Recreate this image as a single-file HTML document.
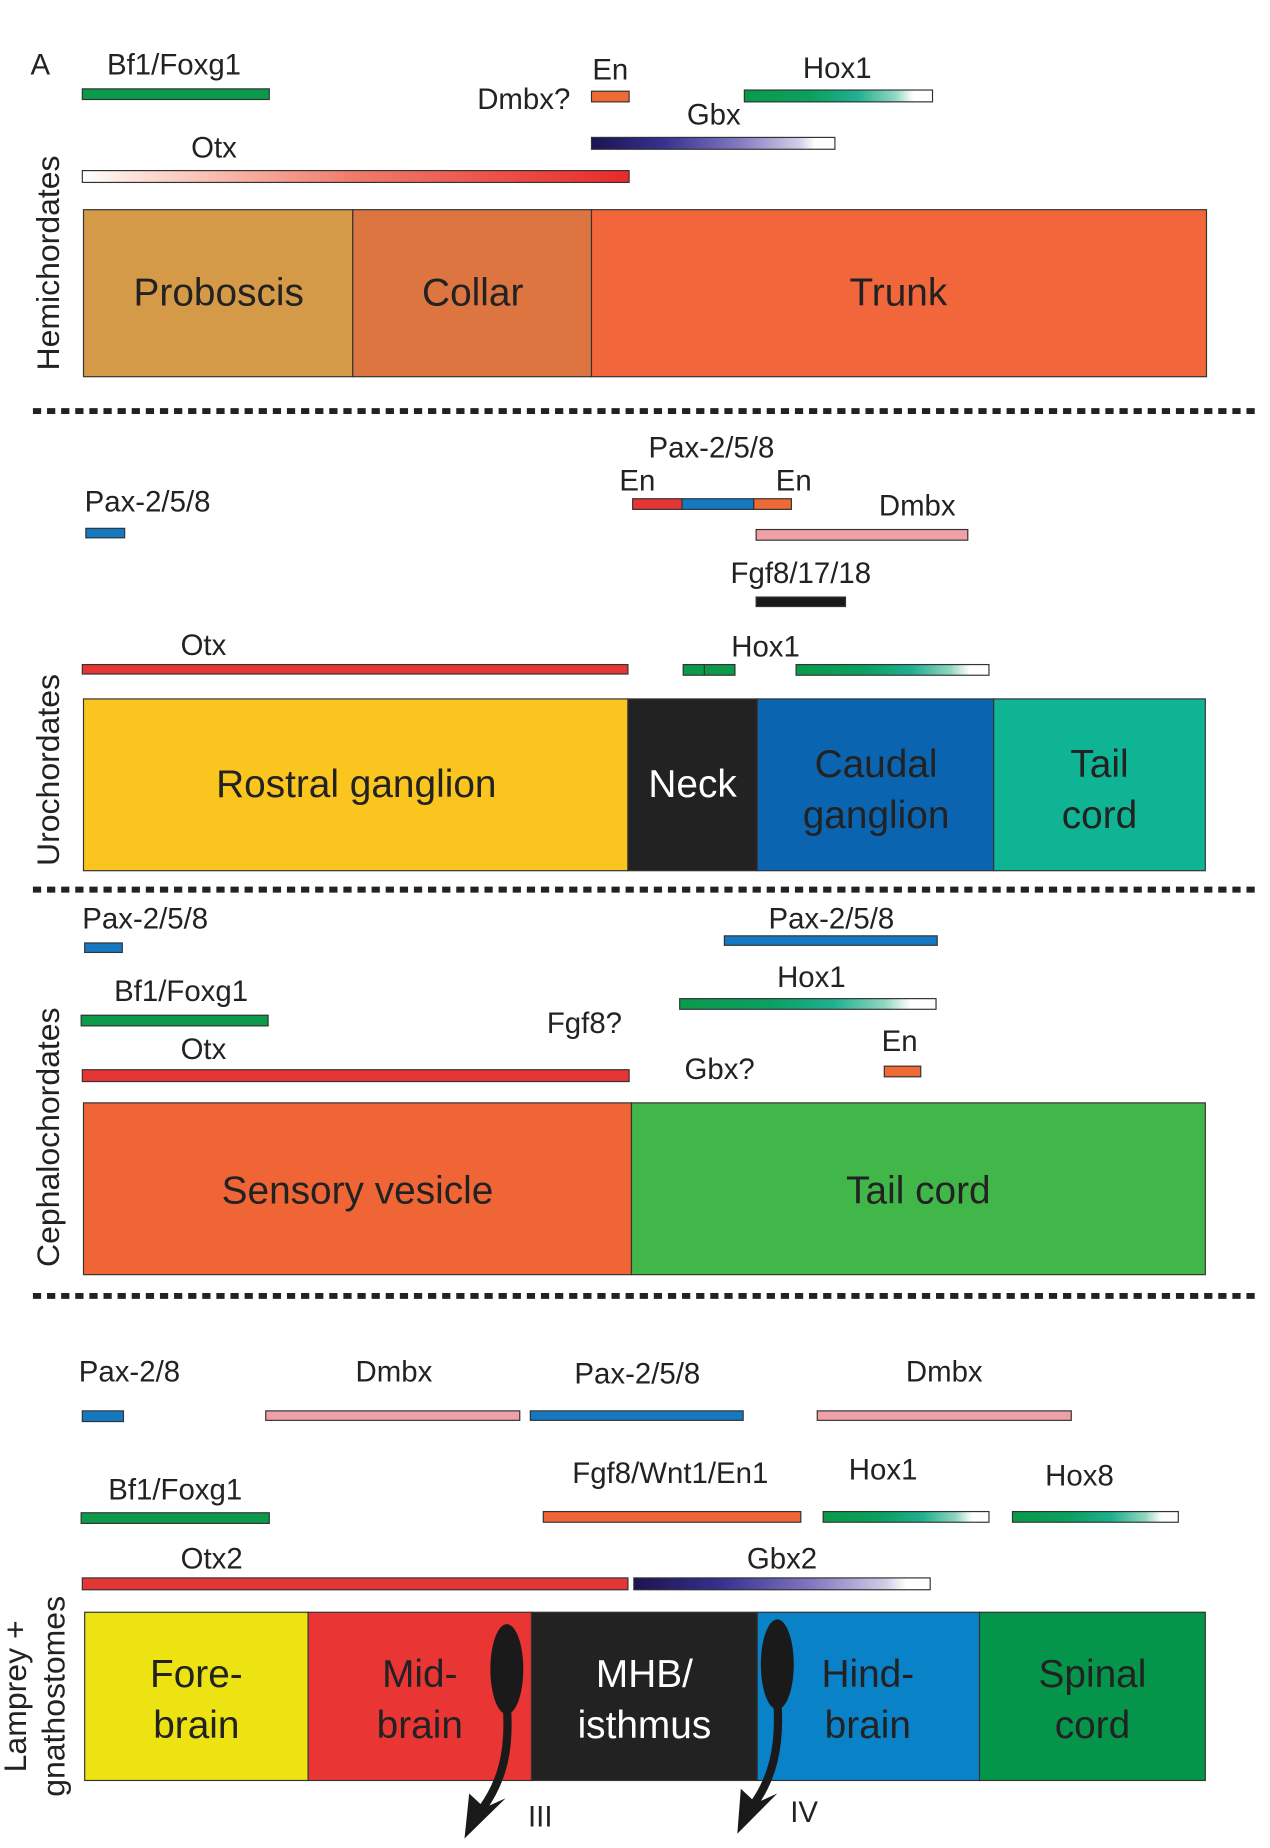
<!DOCTYPE html>
<html><head><meta charset="utf-8"><style>
html,body{margin:0;padding:0;background:#fff;}
svg{display:block;}
text{font-family:"Liberation Sans",Arial,sans-serif;fill:#222;}
</style></head><body>
<svg width="1270" height="1848" viewBox="0 0 1080 1560" preserveAspectRatio="none" xmlns="http://www.w3.org/2000/svg">
<defs>
<linearGradient id="gOtx" x1="0" x2="1">
<stop offset="0" stop-color="#fff"/><stop offset="0.1" stop-color="#fde0d6"/><stop offset="0.5" stop-color="#f07a6a"/><stop offset="1" stop-color="#e82a2a"/>
</linearGradient>
<linearGradient id="gGbx" x1="0" x2="1">
<stop offset="0" stop-color="#1a1450"/><stop offset="0.3" stop-color="#3a3090"/><stop offset="0.6" stop-color="#8078c0"/><stop offset="0.85" stop-color="#cfcde6"/><stop offset="0.92" stop-color="#fff"/><stop offset="1" stop-color="#fff"/>
</linearGradient>
<linearGradient id="gHox" x1="0" x2="1">
<stop offset="0" stop-color="#0a9a4a"/><stop offset="0.35" stop-color="#0aa060"/><stop offset="0.6" stop-color="#20b090"/><stop offset="0.8" stop-color="#90d6c0"/><stop offset="0.9" stop-color="#fff"/><stop offset="1" stop-color="#fff"/>
</linearGradient>
</defs>
<g stroke="#333" stroke-width="1">
<!-- Section 1 -->
<rect x="70" y="75" width="159" height="9" fill="#0a9a4a"/>
<rect x="503" y="77" width="32" height="9" fill="#f06a35"/>
<rect x="633" y="76" width="160" height="10" fill="url(#gHox)"/>
<rect x="503" y="116" width="207" height="10" fill="url(#gGbx)"/>
<rect x="70" y="144" width="465" height="10" fill="url(#gOtx)"/>
<rect x="71" y="177" width="229" height="141" fill="#d59a48"/>
<rect x="300" y="177" width="203" height="141" fill="#dc7540"/>
<rect x="503" y="177" width="523" height="141" fill="#f1663a"/>
<!-- Section 2 -->
<rect x="73" y="446" width="33" height="8" fill="#1479c1"/>
<rect x="538" y="421" width="42" height="9" fill="#e63535"/>
<rect x="580" y="421" width="61" height="9" fill="#1479c1"/>
<rect x="641" y="421" width="32" height="9" fill="#f06a35"/>
<rect x="643" y="447" width="180" height="9" fill="#f0a0a8"/>
<rect x="643" y="504" width="76" height="8" fill="#1a1a1a"/>
<rect x="70" y="561" width="464" height="8" fill="#e63535"/>
<rect x="581" y="561" width="44" height="9" fill="#0a9a4a"/>
<line x1="599" y1="561" x2="599" y2="570"/>
<rect x="677" y="561" width="164" height="9" fill="url(#gHox)"/>
<rect x="71" y="590" width="463" height="145" fill="#fbc520"/>
<rect x="534" y="590" width="110" height="145" fill="#222"/>
<rect x="644" y="590" width="201" height="145" fill="#0a64b0"/>
<rect x="845" y="590" width="180" height="145" fill="#0fb494"/>
<!-- Section 3 -->
<rect x="72" y="796" width="32" height="8" fill="#1479c1"/>
<rect x="616" y="790" width="181" height="8" fill="#1479c1"/>
<rect x="69" y="857" width="159" height="9" fill="#0a9a4a"/>
<rect x="578" y="843" width="218" height="9" fill="url(#gHox)"/>
<rect x="70" y="903" width="465" height="10" fill="#e63535"/>
<rect x="752" y="900" width="31" height="9" fill="#f06a35"/>
<rect x="71" y="931" width="466" height="145" fill="#f06535"/>
<rect x="537" y="931" width="488" height="145" fill="#41b649"/>
<!-- Section 4 -->
<rect x="70" y="1191" width="35" height="9" fill="#1479c1"/>
<rect x="226" y="1191" width="216" height="8" fill="#f0a0a8"/>
<rect x="451" y="1191" width="181" height="8" fill="#1479c1"/>
<rect x="695" y="1191" width="216" height="8" fill="#f0a0a8"/>
<rect x="69" y="1277" width="160" height="9" fill="#0a9a4a"/>
<rect x="462" y="1276" width="219" height="9" fill="#f06535"/>
<rect x="700" y="1276" width="141" height="9" fill="url(#gHox)"/>
<rect x="861" y="1276" width="141" height="9" fill="url(#gHox)"/>
<rect x="70" y="1332" width="464" height="10" fill="#e63535"/>
<rect x="539" y="1332" width="252" height="10" fill="url(#gGbx)"/>
<rect x="72" y="1361" width="190" height="142" fill="#ede313"/>
<rect x="262" y="1361" width="190" height="142" fill="#ea3535"/>
<rect x="452" y="1361" width="192" height="142" fill="#222"/>
<rect x="644" y="1361" width="189" height="142" fill="#0a82c8"/>
<rect x="833" y="1361" width="192" height="142" fill="#05954a"/>
</g>
<!-- dashed separators -->
<g stroke="#222" stroke-width="5" stroke-dasharray="7 5">
<line x1="28" y1="347" x2="1068" y2="347"/>
<line x1="28" y1="751" x2="1068" y2="751"/>
<line x1="28" y1="1094" x2="1068" y2="1094"/>
</g>
<!-- arrows -->
<g fill="#1a1a1a">
<ellipse cx="431" cy="1409" rx="14" ry="38"/>
<path d="M431,1440 C434,1480 426,1505 410,1527" stroke="#1a1a1a" stroke-width="7" fill="none"/>
<polygon points="395,1552 399,1514 412,1526 430,1518"/>
<ellipse cx="661" cy="1405" rx="14" ry="38"/>
<path d="M661,1436 C664,1476 656,1502 641,1523" stroke="#1a1a1a" stroke-width="7" fill="none"/>
<polygon points="627,1548 630,1510 643,1522 661,1514"/>
</g>
<!-- labels -->
<g font-size="25">
<text x="26" y="63">A</text>
<text x="148" y="63" text-anchor="middle">Bf1/Foxg1</text>
<text x="519" y="67" text-anchor="middle">En</text>
<text x="485" y="92" text-anchor="end">Dmbx?</text>
<text x="712" y="66" text-anchor="middle">Hox1</text>
<text x="607" y="105" text-anchor="middle">Gbx</text>
<text x="182" y="133" text-anchor="middle">Otx</text>

<text x="72" y="432">Pax-2/5/8</text>
<text x="605" y="386" text-anchor="middle">Pax-2/5/8</text>
<text x="542" y="414" text-anchor="middle">En</text>
<text x="675" y="414" text-anchor="middle">En</text>
<text x="780" y="435" text-anchor="middle">Dmbx</text>
<text x="681" y="492" text-anchor="middle">Fgf8/17/18</text>
<text x="173" y="553" text-anchor="middle">Otx</text>
<text x="651" y="554" text-anchor="middle">Hox1</text>

<text x="70" y="784">Pax-2/5/8</text>
<text x="707" y="784" text-anchor="middle">Pax-2/5/8</text>
<text x="154" y="845" text-anchor="middle">Bf1/Foxg1</text>
<text x="690" y="833" text-anchor="middle">Hox1</text>
<text x="497" y="872" text-anchor="middle">Fgf8?</text>
<text x="173" y="894" text-anchor="middle">Otx</text>
<text x="765" y="887" text-anchor="middle">En</text>
<text x="612" y="911" text-anchor="middle">Gbx?</text>

<text x="67" y="1166">Pax-2/8</text>
<text x="335" y="1166" text-anchor="middle">Dmbx</text>
<text x="542" y="1168" text-anchor="middle">Pax-2/5/8</text>
<text x="803" y="1166" text-anchor="middle">Dmbx</text>
<text x="149" y="1266" text-anchor="middle">Bf1/Foxg1</text>
<text x="570" y="1252" text-anchor="middle">Fgf8/Wnt1/En1</text>
<text x="751" y="1249" text-anchor="middle">Hox1</text>
<text x="918" y="1254" text-anchor="middle">Hox8</text>
<text x="180" y="1324" text-anchor="middle">Otx2</text>
<text x="665" y="1324" text-anchor="middle">Gbx2</text>
<text x="449" y="1542">III</text>
<text x="672" y="1538">IV</text>
</g>
<!-- vertical labels -->
<g font-size="27" text-anchor="middle">
<text transform="translate(50,222) rotate(-90)">Hemichordates</text>
<text transform="translate(50,650) rotate(-90)">Urochordates</text>
<text transform="translate(50,960) rotate(-90)">Cephalochordates</text>
<text transform="translate(22,1432) rotate(-90)">Lamprey +</text>
<text transform="translate(55,1432) rotate(-90)">gnathostomes</text>
</g>
<!-- box labels -->
<g font-size="33" text-anchor="middle">
<text x="186" y="258">Proboscis</text>
<text x="402" y="258">Collar</text>
<text x="764" y="258">Trunk</text>
<text x="303" y="673">Rostral ganglion</text>
<text x="589" y="673" style="fill:#fff">Neck</text>
<text x="745" y="656">Caudal</text>
<text x="745" y="699">ganglion</text>
<text x="935" y="656">Tail</text>
<text x="935" y="699">cord</text>
<text x="304" y="1016">Sensory vesicle</text>
<text x="781" y="1016">Tail cord</text>
<text x="167" y="1424">Fore-</text>
<text x="167" y="1467">brain</text>
<text x="357" y="1424">Mid-</text>
<text x="357" y="1467">brain</text>
<text x="548" y="1424" style="fill:#fff">MHB/</text>
<text x="548" y="1467" style="fill:#fff">isthmus</text>
<text x="738" y="1424">Hind-</text>
<text x="738" y="1467">brain</text>
<text x="929" y="1424">Spinal</text>
<text x="929" y="1467">cord</text>
</g>
</svg>
</body></html>
